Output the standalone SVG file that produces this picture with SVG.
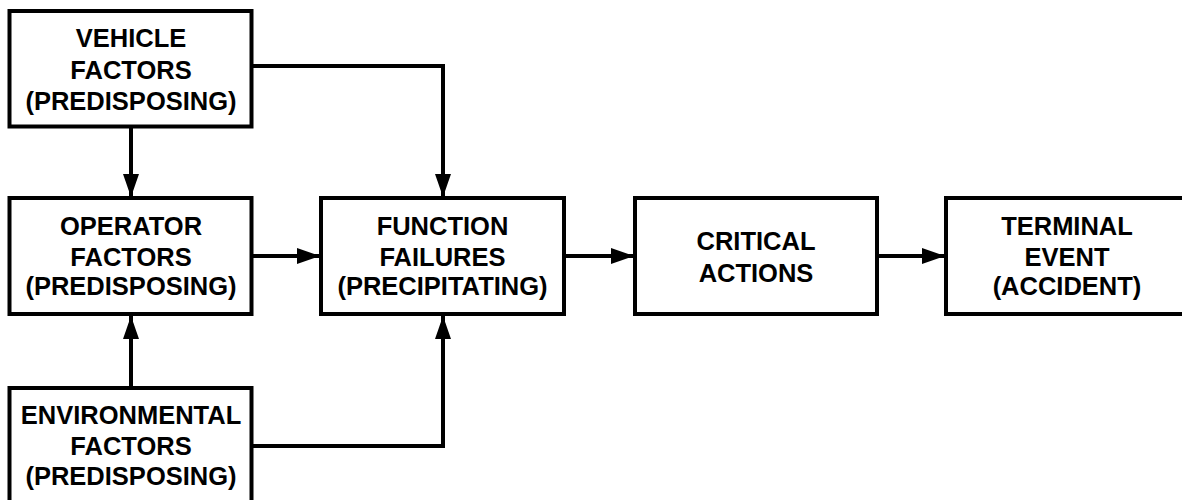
<svg xmlns="http://www.w3.org/2000/svg" width="1182" height="500" viewBox="0 0 1182 500">
  <style>
    .box { fill: #ffffff; stroke: #000000; stroke-width: 4; }
    .lbl { font-family: "Liberation Sans", Arial, sans-serif; font-weight: bold; font-size: 25.5px; fill: #000000; text-anchor: middle; }
    .conn { fill: none; stroke: #000000; stroke-width: 4; marker-end: url(#arrow); }
  </style>
  <defs>
    <marker id="arrow" markerUnits="userSpaceOnUse" markerWidth="24" markerHeight="18" refX="23" refY="9" orient="auto">
      <path d="M0,1 L23,9 L0,17 Z" fill="#000000"/>
    </marker>
  </defs>
  <rect x="0" y="0" width="1182" height="500" fill="#ffffff"/>

  <g id="connectors">
    <line class="conn" x1="131" y1="127" x2="131" y2="197"/>
    <polyline class="conn" points="252,66 443,66 443,197"/>
    <line class="conn" x1="131" y1="387" x2="131" y2="316"/>
    <polyline class="conn" points="252,446 443,446 443,316"/>
    <line class="conn" x1="252" y1="256" x2="320" y2="256"/>
    <line class="conn" x1="564" y1="256" x2="634" y2="256"/>
    <line class="conn" x1="877" y1="256" x2="945" y2="256"/>
  </g>

  <g id="vehicle">
    <rect class="box" x="9.5" y="11" width="242" height="115.5"/>
    <text class="lbl" x="131" y="47">VEHICLE</text>
    <text class="lbl" x="131" y="79">FACTORS</text>
    <text class="lbl" x="131" y="110">(PREDISPOSING)</text>
  </g>

  <g id="operator">
    <rect class="box" x="9.5" y="198" width="242" height="116"/>
    <text class="lbl" x="131" y="235">OPERATOR</text>
    <text class="lbl" x="131" y="266">FACTORS</text>
    <text class="lbl" x="131" y="295">(PREDISPOSING)</text>
  </g>

  <g id="environmental">
    <rect class="box" x="9.5" y="388" width="242" height="140"/>
    <text class="lbl" x="131" y="424">ENVIRONMENTAL</text>
    <text class="lbl" x="131" y="455">FACTORS</text>
    <text class="lbl" x="131" y="485">(PREDISPOSING)</text>
  </g>

  <g id="function">
    <rect class="box" x="321" y="198" width="243" height="116"/>
    <text class="lbl" x="442.5" y="235">FUNCTION</text>
    <text class="lbl" x="442.5" y="266">FAILURES</text>
    <text class="lbl" x="442.5" y="295">(PRECIPITATING)</text>
  </g>

  <g id="critical">
    <rect class="box" x="635" y="198" width="242" height="116"/>
    <text class="lbl" x="756" y="250">CRITICAL</text>
    <text class="lbl" x="756" y="282">ACTIONS</text>
  </g>

  <g id="terminal">
    <rect class="box" x="946" y="198" width="242" height="116"/>
    <text class="lbl" x="1067" y="235">TERMINAL</text>
    <text class="lbl" x="1067" y="266">EVENT</text>
    <text class="lbl" x="1067" y="295">(ACCIDENT)</text>
  </g>
</svg>
